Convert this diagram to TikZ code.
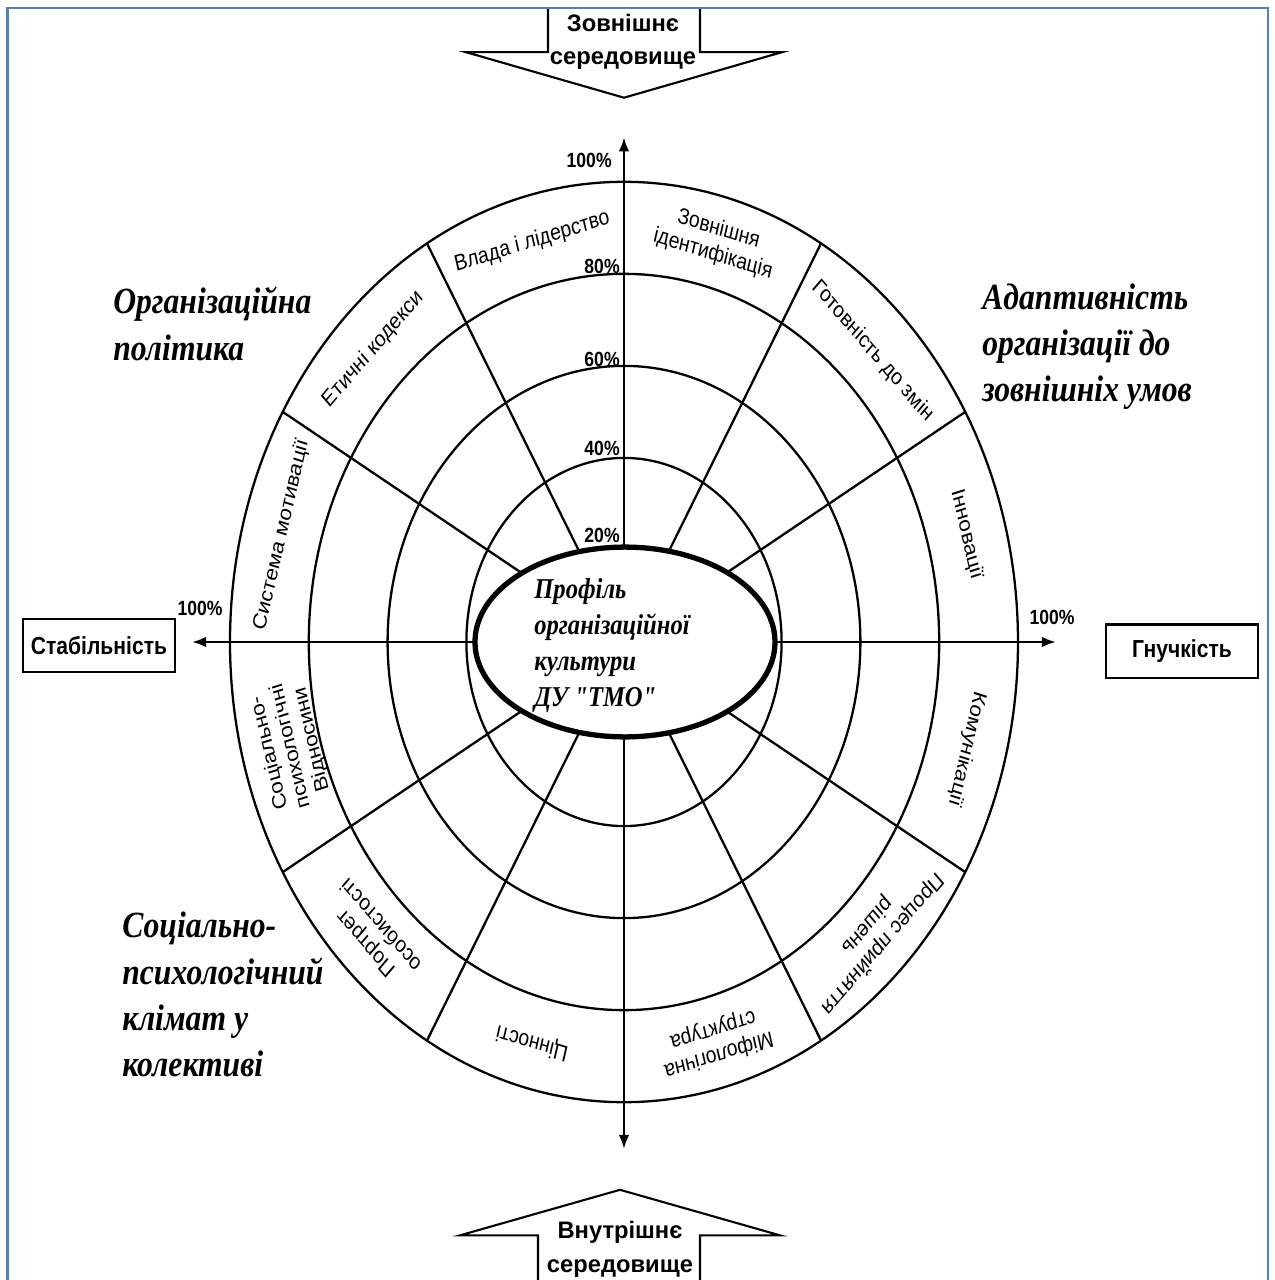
\documentclass[tikz,border=0pt]{standalone}
\usepackage{fontspec}
\setmainfont{Liberation Serif}
\setsansfont{Liberation Sans}
\usetikzlibrary{arrows.meta,shapes.geometric}
\definecolor{frameblue}{RGB}{79,129,189}

\begin{document}
\begin{tikzpicture}[x=0.2mm, y=0.2mm,
    ring/.style={line width=1.3pt},
    axis/.style={line width=1.4pt, arrows={Latex[length=8pt,width=6pt]-Latex[length=8pt,width=6pt]}},
    sector/.style={font=\sffamily\fontsize{11}{12.5}\selectfont, align=center, inner sep=0pt},
    pct/.style={font=\sffamily\bfseries\fontsize{10}{12}\selectfont, inner sep=0pt},
    sidebox/.style={draw, line width=1.2pt, font=\sffamily\bfseries\fontsize{12}{14}\selectfont,
                    minimum width=30.4mm, minimum height=9.2mm, inner sep=0pt},
    heading/.style={font=\bfseries\itshape\fontsize{18}{22.5}\selectfont, align=left,
                    inner sep=0pt, anchor=north west},
    blockarrow/.style={draw, line width=1.2pt, fill=white, line join=miter},
    arrowtext/.style={font=\sffamily\bfseries\fontsize{13.5}{19}\selectfont, align=center,
                      inner sep=0pt, yscale=0.86}]

  \useasboundingbox (-624,642) rectangle (650,-638);

  \begin{scope}[yscale=1.168, transform shape]
    % rings 20% ... 100%
    \foreach \k in {1,...,5}
      \draw[ring] (0,0) circle [radius=78.8*\k];
    % spokes between the sectors
    \foreach \a in {30,60,120,150,210,240,300,330}
      \draw[ring] (0,0) -- (\a:394);
    % axes
    \coordinate (ax-l) at (-432,0);
    \coordinate (ax-r) at (432,0);
    \coordinate (ax-t) at (0,432);
    \coordinate (ax-b) at (0,-434);
    \draw[axis] (ax-l) -- (ax-r);
    \draw[axis] (ax-b) -- (ax-t);

    % sector names
    \foreach \a/\r/\txt in {105/354.6/{Влада і лідерство}, 75/354.6/{Зовнішня\\ідентифікація},
        45/352/{Готовність до змін}, 15/354.6/{Інновації}, -15/354.6/{Комунікації},
        -45/354.6/{Процес прийняття\\рішень}, -75/354.6/{Міфологічна\\структура},
        -105/354.6/{Цінності}, -135/354.6/{Портрет\\особистості},
        -165/345/{Соціально-\\психологічні\\Відносини}, 165/354.6/{Система мотивації},
        135/354.6/{Етичні кодекси}}
      \node[sector, rotate=\a-90] (sec\a) at (\a:\r) {\txt};

    % scale
    \node[pct, anchor=south east] (p20) at (-4,85) {20\%};
    \node[pct, anchor=south east] (p40) at (-4,159) {40\%};
    \node[pct, anchor=south east] (p60) at (-4,235) {60\%};
    \node[pct, anchor=south east] (p80) at (-4,315) {80\%};
    \node[pct, anchor=south east] (p100t) at (-12,406) {100\%};
    \node[pct] (p100l) at (-424,29) {100\%};
    \node[pct] (p100r) at (428,21) {100\%};

    % centre
    \node[ellipse, draw, line width=3pt, fill=white, minimum width=60mm, minimum height=32.5mm,
          inner sep=0pt] (profile) at (1,0) {};
    \node[align=left, inner sep=0pt, font=\bfseries\itshape\fontsize{14}{17.5}\selectfont]
      (profiletxt) at (-12,-3) {Профіль\\організаційної\\культури\\ДУ \textquotedbl ТМО\textquotedbl};

    % left and right poles
    \node[sidebox] (stab) at (-525,-3) {Стабільність};
    \node[sidebox] (flex) at (558,-8) {Гнучкість};

    % outer and inner environment
    \draw[blockarrow] (-76,543) -- (-76,505) -- (-158,505) -- (0,466) -- (158,505) -- (76,505) -- (76,543);
    \node[arrowtext] (outer) at (-1,514) {Зовнішнє\\середовище};
    \draw[blockarrow] (-86,-560) -- (-86,-508) -- (-164,-508) -- (-4,-469) -- (156,-508) -- (76,-508) -- (76,-560);
    \node[arrowtext] (inner) at (-4,-520) {Внутрішнє\\середовище};

    % groups
    \node[heading] (policy) at (-511,304) {Організаційна\\політика};
    \node[heading] (adapt) at (358,307) {Адаптивність\\організації до\\зовнішніх умов};
    \node[heading] (climate) at (-502,-231) {Соціально-\\психологічний\\клімат у\\колективі};
  \end{scope}

  % frame
  \draw[frameblue, line width=1.7pt] (-616,-700) -- (-616,634) -- (644,634) -- (644,-700);
\end{tikzpicture}
\end{document}
